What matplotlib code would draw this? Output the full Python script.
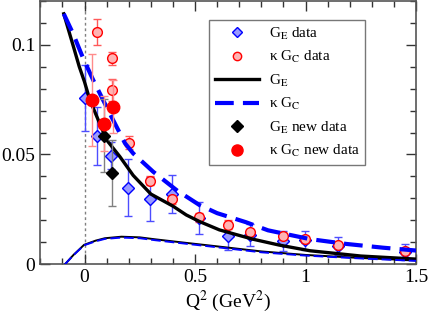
import matplotlib
matplotlib.use("Agg")
import matplotlib.pyplot as plt
from matplotlib.lines import Line2D
from matplotlib.ticker import MultipleLocator

plt.rcParams['font.family'] = ['Liberation Serif', 'DejaVu Serif']
plt.rcParams['mathtext.fontset'] = 'stix'

# G_E data (open diamonds)
ge_x = [0.0, 0.056, 0.119, 0.197, 0.295, 0.396, 0.519, 0.647, 0.748, 0.896, 0.997, 1.148, 1.449]
ge_y = [0.0758, 0.0584, 0.0495, 0.0349, 0.0296, 0.032, 0.021, 0.013, 0.0134, 0.0108, 0.011, 0.0084, 0.0057]
ge_err = [0.015, 0.013, 0.006, 0.013, 0.010, 0.0087, 0.0072, 0.0065, 0.005, 0.0045, 0.0044, 0.004, 0.0036]

# kappa G_C data (open circles)
gc_x = [0.057, 0.125, 0.125, 0.20, 0.295, 0.396, 0.519, 0.647, 0.748, 0.896, 0.997, 1.148, 1.449]
gc_y = [0.1058, 0.0937, 0.0793, 0.0554, 0.0381, 0.0296, 0.0215, 0.0181, 0.0148, 0.013, 0.0114, 0.0086, 0.0063]
gc_err = [0.006, 0.003, 0.005, 0.003, 0.002, 0.002, 0.002, 0.002, 0.0015, 0.0015, 0.0015, 0.0012, 0.0012]

# new data
ge_new_x = [0.089, 0.125]
ge_new_y = [0.0586, 0.0415]
ge_new_err = [0.0165, 0.015]

gc_new_x = [0.036, 0.089, 0.13]
gc_new_y = [0.0748, 0.0639, 0.0717]
gc_new_err = [0.021, 0.0125, 0.012]

# model curves
ge_curve_x = [-0.094, -0.05, -0.024, 0.0, 0.024, 0.062, 0.10, 0.16, 0.22, 0.30, 0.40, 0.46, 0.52,
              0.61, 0.76, 0.88, 1.02, 1.25, 1.5]
ge_curve_y = [0.114, 0.099, 0.090, 0.083, 0.0748, 0.0657, 0.0566, 0.049, 0.0405, 0.032, 0.0265, 0.0225,
              0.0195, 0.0157, 0.0115, 0.0088, 0.0062, 0.0038, 0.0024]

gc_curve_x = [-0.094, -0.052, -0.006, 0.039, 0.114, 0.183, 0.22, 0.31, 0.42, 0.52, 0.60, 0.73, 0.83,
              1.02, 1.185, 1.35, 1.5]
gc_curve_y = [0.114, 0.105, 0.0937, 0.0839, 0.0687, 0.0551, 0.0505, 0.0422, 0.0335, 0.027, 0.0233,
              0.0192, 0.0155, 0.0115, 0.0093, 0.0076, 0.0063]

low_x = [-0.089, -0.05, -0.002, 0.05, 0.092, 0.167, 0.25, 0.32, 0.45, 0.6, 0.8, 1.0, 1.25, 1.5]
low_ge_y = [0.0, 0.0043, 0.0089, 0.0108, 0.0119, 0.0126, 0.0123, 0.0114, 0.0099, 0.0082, 0.0059,
            0.0043, 0.0029, 0.0018]
low_gc_y = [0.0, 0.0042, 0.0087, 0.0105, 0.0116, 0.0122, 0.0119, 0.0110, 0.0095, 0.0078, 0.0055,
            0.0040, 0.0027, 0.0016]

labels = [r'G$_\mathrm{E}$ data', u'\u03ba G$_\\mathrm{C}$ data', r'G$_\mathrm{E}$',
          u'\u03ba G$_\\mathrm{C}$', r'G$_\mathrm{E}$ new data', u'\u03ba G$_\\mathrm{C}$ new data']

fig = plt.figure(figsize=(4.29, 3.14), dpi=100)
ax = fig.add_axes([0.094, 0.158, 0.876, 0.84])

ax.axvline(0, color='gray', ls=(0, (2, 2)), lw=1, zorder=1)

ge_style = dict(marker='D', ms=6, mfc=(0.6, 0.6, 1.0), mec='blue', mew=1)
gc_style = dict(marker='o', ms=7, mfc=(1.0, 0.7, 0.7), mec='red', mew=1)
ge_new_style = dict(marker='D', ms=6.5, mfc='black', mec='black')
gc_new_style = dict(marker='o', ms=9, mfc='red', mec='red')

ax.errorbar(ge_x, ge_y, yerr=ge_err, ls='none', ecolor=(0.3, 0.3, 1.0), elinewidth=1, capsize=3,
            zorder=3, **ge_style)
ax.errorbar(gc_x, gc_y, yerr=gc_err, ls='none', ecolor=(1.0, 0.35, 0.35), elinewidth=1, capsize=3,
            zorder=3, **gc_style)

ax.plot(ge_curve_x, ge_curve_y, color='black', lw=2.4, zorder=4)
ax.plot(gc_curve_x, gc_curve_y, color='blue', lw=3, ls=(0, (4.5, 2.2)), zorder=4)
ax.plot(low_x, low_ge_y, color='black', lw=1.4, zorder=4)
ax.plot(low_x, low_gc_y, color='blue', lw=1.4, ls=(0, (5, 2)), zorder=4)

ax.errorbar(ge_new_x, ge_new_y, yerr=ge_new_err, ls='none', ecolor='gray', elinewidth=1, capsize=3,
            zorder=5, **ge_new_style)
ax.errorbar(gc_new_x, gc_new_y, yerr=gc_new_err, ls='none', ecolor=(1.0, 0.55, 0.55), elinewidth=1,
            capsize=3, zorder=5, **gc_new_style)

ax.set_xlim(-0.2, 1.5)
ax.set_ylim(0, 0.12)
ax.xaxis.set_minor_locator(MultipleLocator(0.1))
ax.yaxis.set_minor_locator(MultipleLocator(0.01))
ax.set_xticks([0, 0.5, 1, 1.5])
ax.set_xticklabels(['0', '0.5', '1', '1.5'])
ax.set_yticks([0, 0.05, 0.1])
ax.set_yticklabels(['0', '0.05', '0.1'])
ax.tick_params(which='both', direction='in', top=True, right=True, labelsize=14, colors='#333333',
               labelcolor='black')
ax.tick_params(which='major', length=7, width=1)
ax.tick_params(which='minor', length=4, width=1)
for s in ax.spines.values():
    s.set_color('#555555')
    s.set_linewidth(1.2)

ax.set_xlabel(r'Q$^2$ (GeV$^2$)', fontsize=14, labelpad=2)

handles = [
    Line2D([], [], ls='none', **dict(ge_style, ms=5.5)),
    Line2D([], [], ls='none', **dict(gc_style, ms=6)),
    Line2D([], [], color='black', lw=2.4),
    Line2D([], [], color='blue', lw=3, ls=(0, (4.5, 2.2))),
    Line2D([], [], ls='none', **dict(ge_new_style, ms=6)),
    Line2D([], [], ls='none', **dict(gc_new_style, ms=8)),
]
leg = ax.legend(handles, labels, loc='upper left', bbox_to_anchor=(0.449, 0.928), fontsize=11,
                frameon=True, fancybox=False, handlelength=2.9, handletextpad=0.6, labelspacing=0.48,
                borderpad=0.4, borderaxespad=0)
leg.get_frame().set_edgecolor('#555555')
leg.get_frame().set_linewidth(1)

fig.savefig('out.png', dpi=100)
